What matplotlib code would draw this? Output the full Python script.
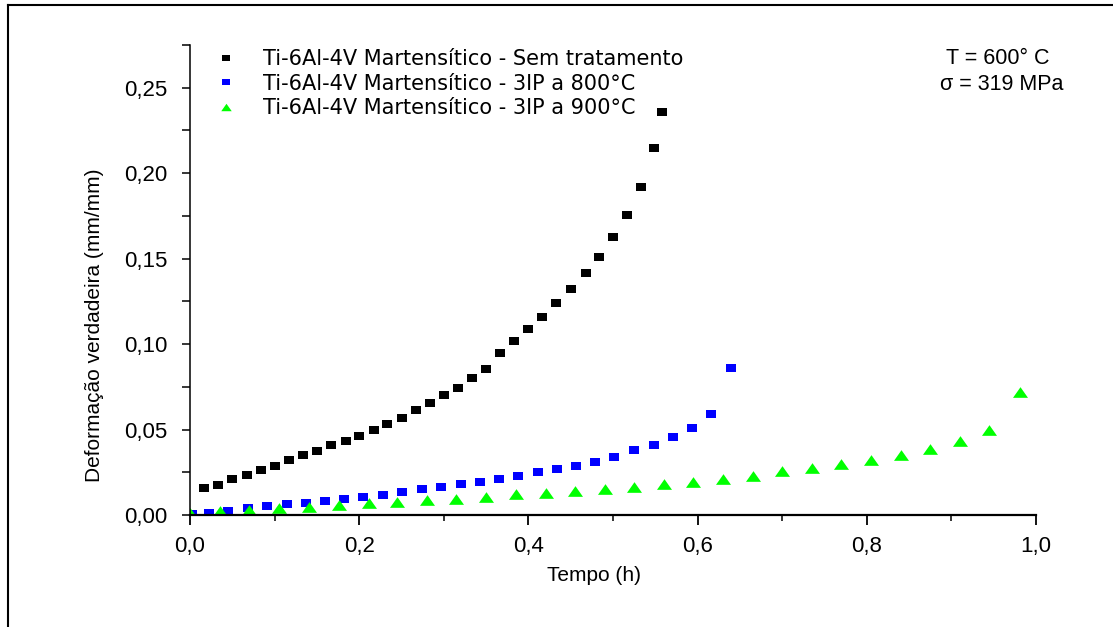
import matplotlib
matplotlib.use('Agg')
import matplotlib.pyplot as plt
from matplotlib.lines import Line2D
from matplotlib.ticker import MultipleLocator

# tempo (h) e deformacao (mm/mm)
t_sem = [0.017, 0.033, 0.050, 0.067, 0.084, 0.100, 0.117, 0.133, 0.150, 0.167,
         0.184, 0.200, 0.217, 0.233, 0.250, 0.267, 0.284, 0.300, 0.317, 0.333,
         0.350, 0.367, 0.383, 0.400, 0.416, 0.433, 0.450, 0.468, 0.483, 0.500,
         0.516, 0.533, 0.549, 0.558]
e_sem = [0.0156, 0.0177, 0.0209, 0.0232, 0.0263, 0.0289, 0.0320, 0.0351, 0.0375, 0.0408,
         0.0435, 0.0464, 0.0500, 0.0531, 0.0566, 0.0613, 0.0654, 0.0703, 0.0744, 0.0802,
         0.0857, 0.0950, 0.1017, 0.1087, 0.1161, 0.1243, 0.1321, 0.1415, 0.1509, 0.1624,
         0.1755, 0.1919, 0.2150, 0.2359]

t_800 = [0.002, 0.023, 0.045, 0.069, 0.091, 0.115, 0.137, 0.160, 0.182, 0.205,
         0.228, 0.251, 0.274, 0.297, 0.320, 0.343, 0.365, 0.388, 0.411, 0.434,
         0.456, 0.479, 0.501, 0.525, 0.548, 0.571, 0.593, 0.616, 0.640]
e_800 = [0.0004, 0.0010, 0.0023, 0.0039, 0.0050, 0.0063, 0.0072, 0.0082, 0.0092, 0.0104,
         0.0119, 0.0136, 0.0150, 0.0164, 0.0180, 0.0193, 0.0209, 0.0230, 0.0250, 0.0271,
         0.0287, 0.0312, 0.0340, 0.0379, 0.0408, 0.0455, 0.0509, 0.0591, 0.0862]

t_900 = [0.000, 0.035, 0.070, 0.105, 0.141, 0.176, 0.211, 0.245, 0.280, 0.315,
         0.350, 0.385, 0.421, 0.455, 0.490, 0.525, 0.560, 0.595, 0.630, 0.665,
         0.700, 0.735, 0.770, 0.805, 0.840, 0.875, 0.910, 0.945, 0.981]
e_900 = [0.0010, 0.0023, 0.0029, 0.0039, 0.0049, 0.0060, 0.0070, 0.0076, 0.0086, 0.0095,
         0.0107, 0.0121, 0.0131, 0.0141, 0.0150, 0.0166, 0.0180, 0.0195, 0.0213, 0.0230,
         0.0256, 0.0275, 0.0299, 0.0324, 0.0353, 0.0385, 0.0433, 0.0498, 0.0718]

labels = ['Ti-6Al-4V Martensítico - Sem tratamento',
          'Ti-6Al-4V Martensítico - 3IP a 800°C',
          'Ti-6Al-4V Martensítico - 3IP a 900°C']
xticks = [0.0, 0.2, 0.4, 0.6, 0.8, 1.0]
xtick_labels = ['0,0', '0,2', '0,4', '0,6', '0,8', '1,0']
yticks = [0.00, 0.05, 0.10, 0.15, 0.20, 0.25]
ytick_labels = ['0,00', '0,05', '0,10', '0,15', '0,20', '0,25']

plt.rcParams['font.family'] = ['Liberation Sans', 'DejaVu Sans']

# marcadores um pouco achatados como no original
rect = [(-1, -0.75), (1, -0.75), (1, 0.75), (-1, 0.75), (-1, -0.75)]
tri = [(0, 0.71), (-1, -0.71), (1, -0.71), (0, 0.71)]

fig = plt.figure(figsize=(11.13, 6.27), dpi=100)
ax = fig.add_axes([190 / 1113, 1 - 515 / 627, 846 / 1113, 470 / 627])

ax.plot(t_sem, e_sem, ls='none', marker=rect, ms=7.7, color='black', mew=0, label=labels[0])
ax.plot(t_800, e_800, ls='none', marker=rect, ms=7.9, color='#0000ff', mew=0, label=labels[1])
ax.plot(t_900, e_900, ls='none', marker=tri, ms=10.8, color='#00ff00', mew=0, label=labels[2])

ax.set_xlim(0, 1.0)
ax.set_ylim(0, 0.275)
ax.set_xticks(xticks)
ax.set_xticklabels(xtick_labels, fontsize=16)
ax.set_yticks(yticks)
ax.set_yticklabels(ytick_labels, fontsize=16)
ax.xaxis.set_minor_locator(MultipleLocator(0.1))
ax.yaxis.set_minor_locator(MultipleLocator(0.025))
ax.tick_params(axis='x', which='major', direction='out', length=7, width=1.3, pad=8)
ax.tick_params(axis='x', which='minor', direction='out', length=4, width=1.1)
ax.tick_params(axis='y', which='both', direction='out', length=6, width=1.1, pad=10)

for s in ['top', 'right']:
    ax.spines[s].set_visible(False)
ax.spines['bottom'].set_linewidth(1.6)
ax.spines['left'].set_linewidth(1.1)

ax.set_xlabel('Tempo (h)', fontsize=15)
ax.set_ylabel('Deformação verdadeira (mm/mm)', fontsize=15)
ax.xaxis.set_label_coords(0.4775, -0.108)
ax.yaxis.set_label_coords(-0.102, 0.404)

leg = ax.legend(loc='upper left', bbox_to_anchor=(0.02, 1.009), frameon=False,
                prop={'family': 'DejaVu Sans', 'size': 15},
                markerscale=0.7, handlelength=1.0, handletextpad=1.3, labelspacing=0.22,
                borderaxespad=0)

ax.text((946 - 190) / 846, (515 - 58) / 470, 'T = 600° C', transform=ax.transAxes,
        fontsize=15.5, va='center', ha='left')
ax.text((940 - 190) / 846, (515 - 84) / 470, 'σ = 319 MPa', transform=ax.transAxes,
        fontsize=15.5, va='center', ha='left')

# moldura externa (topo e esquerda)
fig.add_artist(Line2D([8 / 1113, 8 / 1113], [0, 1 - 5 / 627], transform=fig.transFigure,
                      color='black', lw=1.5))
fig.add_artist(Line2D([8 / 1113, 1], [1 - 5 / 627, 1 - 5 / 627], transform=fig.transFigure,
                      color='black', lw=1.5))

fig.savefig('out.png', dpi=100)
